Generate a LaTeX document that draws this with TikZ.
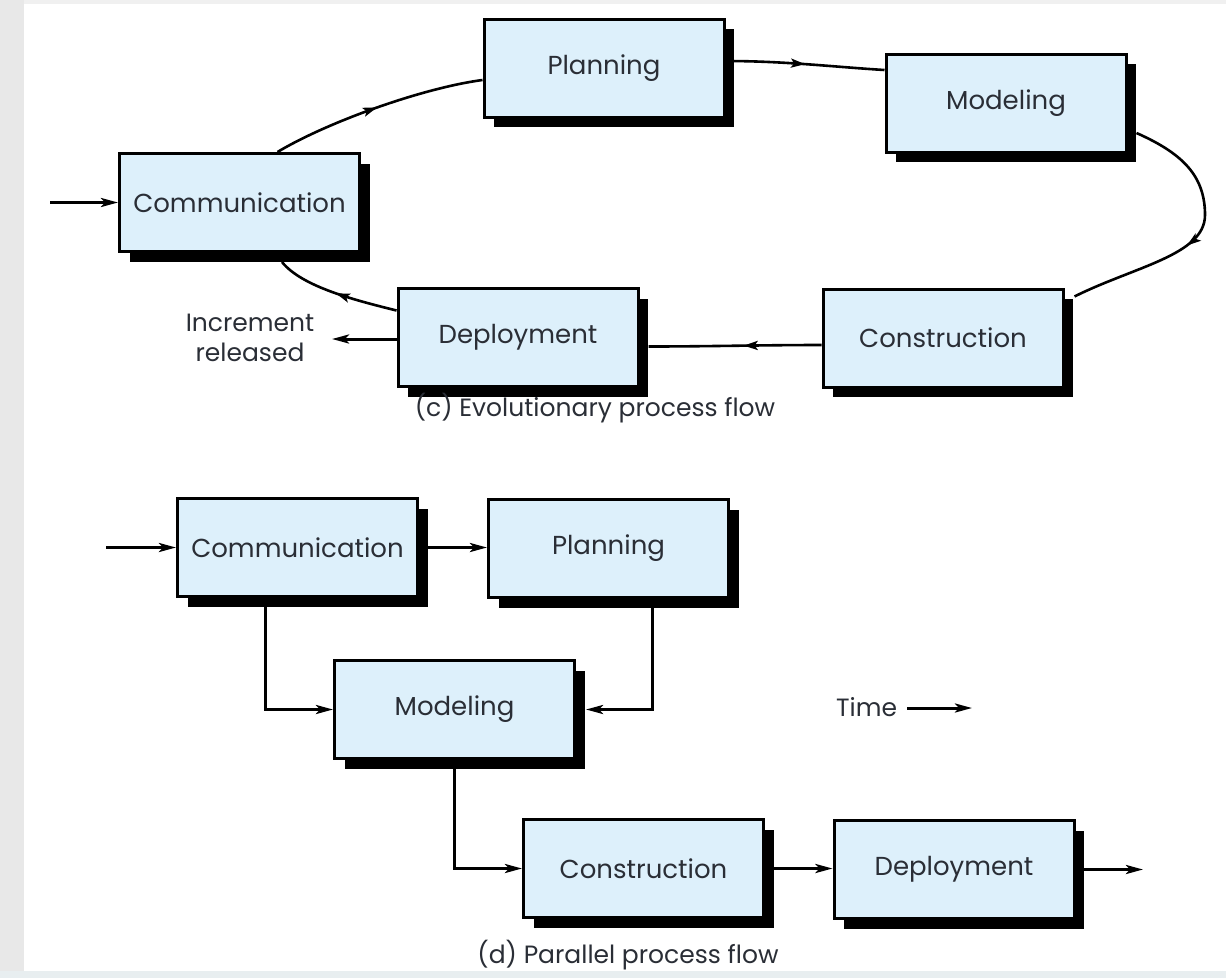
\documentclass[tikz,border=0pt]{standalone}
\usepackage{fontspec}
\setmainfont{Poppins}
\usetikzlibrary{shadows,arrows.meta,decorations.markings,calc}
\definecolor{boxfill}{HTML}{DDF0FB}
\definecolor{txt}{HTML}{2A2E36}
\definecolor{edgegrey}{HTML}{E8E8E8}
\definecolor{topgrey}{HTML}{F0F0F0}
\definecolor{bottomgrey}{HTML}{E8EEF0}
\begin{document}
\begin{tikzpicture}[x=1pt,y=-1pt,
  procbox/.style={draw=black, line width=3pt, fill=boxfill, minimum width=240pt,
    minimum height=98pt, inner sep=0pt, text=txt, font=\fontsize{26}{30}\selectfont,
    drop shadow={shadow xshift=10pt, shadow yshift=-10pt, fill=black, opacity=1}},
  link/.style={line width=3pt, draw=black},
  curvelink/.style={line width=2.6pt, draw=black},
  arrowend/.style={-{Stealth[length=17pt,width=9pt,inset=4pt]}},
  midarrow/.style={decoration={markings, mark=at position #1 with {\arrow{Stealth[length=14pt,width=9pt,inset=3pt]}}}, postaction=decorate},
  lbl/.style={text=txt, font=\fontsize{25}{30}\selectfont, inner sep=0pt}
]
\useasboundingbox (0,0) rectangle (1226,978);
\fill[white] (0,0) rectangle (1226,978);
\fill[edgegrey] (0,0) rectangle (24,978);
\fill[topgrey] (24,0) rectangle (1226,4);

% (c) evolutionary
\node[procbox] (c1) at (239.5,202.5) {Communication};
\node[procbox] (p1) at (604,68) {Planning};
\node[procbox] (m1) at (1006,103) {Modeling};
\node[procbox] (k1) at (943,338) {Construction};
\node[procbox] (d1) at (518,337.5) {Deployment};

\coordinate (in1) at (50,202.5);
\draw[link, arrowend] (in1) -- (c1.west);
\draw[curvelink, midarrow=0.5] ($(c1.north)+(38,0)$) .. controls +(50,-30) and +(-60,8) .. ($(p1.west)+(0,12)$);
\draw[curvelink, midarrow=0.5] ($(p1.east)+(0,-7)$) .. controls +(60,0) and +(-50,-3) .. ($(m1.west)+(0,-33)$);
\coordinate (mk) at (1205,215);
\draw[curvelink, midarrow=0.55] ($(m1.east)+(9,30)$) .. controls +(45,20) and +(0,-40) .. (mk)
   .. controls +(0,40) and +(60,-30) .. ($(k1.north east)+(10,9)$);
\draw[curvelink, midarrow=0.45] ($(k1.west)+(0,7)$) .. controls +(-60,0) and +(60,0) .. ($(d1.east)+(9,9)$);
\draw[curvelink, midarrow=0.5] ($(d1.west)+(0,-27)$) .. controls +(-40,-10) and +(20,25) .. ($(c1.south)+(42.5,9)$);
\coordinate (inc) at (332,339);
\draw[link, arrowend] (d1.west |- inc) -- (inc);
\node[lbl, align=center] (inctext) at (250,338) {Increment\\released};
\node[lbl] (capc) at (595,408) {(c) Evolutionary process flow};

% (d) parallel
\node[procbox] (c2) at (297.5,547.5) {Communication};
\node[procbox] (p2) at (608.5,548.5) {Planning};
\node[procbox] (m2) at (454.5,709.5) {Modeling};
\node[procbox] (k2) at (643.5,868.5) {Construction};
\node[procbox] (d2) at (954,869.5) {Deployment};

\coordinate (in2) at (106,547.5);
\draw[link, arrowend] (in2) -- (c2.west);
\draw[link, arrowend] (c2.east) -- (c2.east -| p2.west);
\draw[link, arrowend] ($(c2.south)+(-32.5,0)$) |- (m2.west);
\draw[link, arrowend] ($(p2.south)+(43.5,0)$) |- ($(m2.east)+(10,0)$);
\draw[link, arrowend] (m2.south) |- (k2.west);
\draw[link, arrowend] (k2.east) -- (k2.east -| d2.west);
\coordinate (out2) at (1143,869.5);
\draw[link, arrowend] (d2.east) -- (out2);

\node[lbl, anchor=west] (time) at (836,707) {Time};
\coordinate (timeend) at (972,708);
\draw[link, arrowend] ($(time.east)+(10,1)$) -- (timeend);

\node[lbl, anchor=base] (capd) at (628,963) {(d) Parallel process flow};
\fill[bottomgrey] (0,971) rectangle (1226,978);
\end{tikzpicture}
\end{document}
